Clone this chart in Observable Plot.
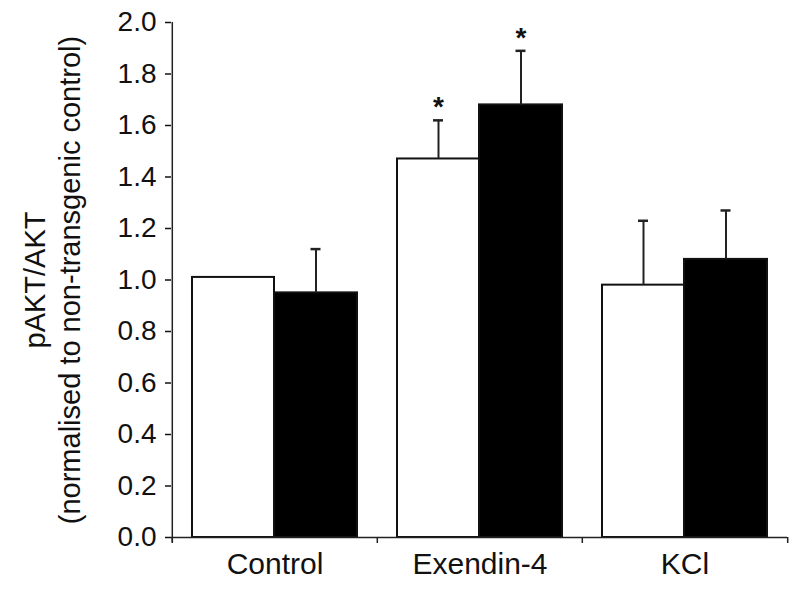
<!DOCTYPE html>
<html><head><meta charset="utf-8">
<script src="https://cdn.jsdelivr.net/npm/d3@7"></script>
<script src="https://cdn.jsdelivr.net/npm/@observablehq/plot@0.6"></script>
<style>body{margin:0;background:#fff} svg{font-family:"Liberation Sans",Arial,sans-serif}</style>
</head><body><div id="chart"></div>
<script>
const categories = ["Control", "Exendin-4", "KCl"];
const groups = ["non-transgenic", "transgenic"];
const nonTransgenic = [1.01, 1.47, 0.98];
const transgenic = [0.95, 1.68, 1.08];
const errNonTransgenic = [0, 0.15, 0.25];
const errTransgenic = [0.17, 0.21, 0.19];
const sigNonTransgenic = [false, true, false];
const sigTransgenic = [false, true, false];
const yTicks = [0, 0.2, 0.4, 0.6, 0.8, 1.0, 1.2, 1.4, 1.6, 1.8, 2.0];
const yLabel = "pAKT/AKT\n(normalised to non-transgenic control)";

const rows = [];
categories.forEach((c, i) => {
  rows.push({category: c, group: groups[0], value: nonTransgenic[i], err: errNonTransgenic[i], sig: sigNonTransgenic[i]});
  rows.push({category: c, group: groups[1], value: transgenic[i], err: errTransgenic[i], sig: sigTransgenic[i]});
});
const nt = rows.filter(d => d.group === groups[0]);
const tg = rows.filter(d => d.group === groups[1]);

// layout offsets inside each category band (styles only)
const S = {
  nt: {insetLeft: 20, insetRight: 103, dx: -41.5},
  tg: {insetLeft: 102, insetRight: 20, dx: 41}
};

function errMarks(data, s) {
  const d = data.filter(r => r.err > 0);
  return [
    Plot.ruleX(d, {x: "category", y1: "value", y2: r => r.value + r.err, dx: s.dx, stroke: "#222", strokeWidth: 2}),
    Plot.tickY(d, {x: "category", y: r => r.value + r.err, dx: s.dx, insetLeft: 97.5, insetRight: 97.5, stroke: "#222", strokeWidth: 2.5}),
    Plot.text(data.filter(r => r.sig), {x: "category", y: r => r.value + r.err, text: () => "*", dx: s.dx, dy: -13, fontSize: 28, fontWeight: "bold", fill: "#111"})
  ];
}

const chart = Plot.plot({
  width: 800,
  height: 590,
  marginLeft: 171,
  marginRight: 13,
  marginTop: 22,
  marginBottom: 53,
  style: {fontFamily: "'Liberation Sans', Arial, sans-serif", fontSize: "28px", color: "#111", background: "white"},
  x: {domain: categories, padding: 0, label: null},
  y: {domain: [0, 2], label: null},
  marks: [
    Plot.axisY({ticks: yTicks, tickFormat: d3.format(".1f"), tickSize: 6, tickPadding: 9, label: null, strokeWidth: 1.5, fontSize: 28}),
    Plot.axisX({tickSize: 0, tickPadding: 15, label: null, fontSize: 30}),
    Plot.ruleX([categories[0]], {x: d => d, y1: -0.02, y2: 2, dx: -102.7, stroke: "#222", strokeWidth: 1.5}),
    Plot.ruleX(categories, {x: d => d, y1: 0, y2: 0, insetBottom: -6, dx: -102.7, stroke: "#222", strokeWidth: 1.5}),
    Plot.ruleX([categories[categories.length - 1]], {x: d => d, y1: 0, y2: 0, insetBottom: -6, dx: 102.7, stroke: "#222", strokeWidth: 1.5}),
    Plot.barY(nt, {x: "category", y: "value", fill: "white", stroke: "#111", strokeWidth: 2, insetLeft: S.nt.insetLeft, insetRight: S.nt.insetRight}),
    Plot.barY(tg, {x: "category", y: "value", fill: "black", stroke: "#111", strokeWidth: 2, insetLeft: S.tg.insetLeft, insetRight: S.tg.insetRight}),
    ...errMarks(nt, S.nt),
    ...errMarks(tg, S.tg),
    Plot.ruleY([0], {stroke: "#222", strokeWidth: 1.5}),
    Plot.text([yLabel], {frameAnchor: "left", textAnchor: "middle", rotate: -90, dx: -120, lineHeight: 1.2, fontSize: 29, fill: "#111"})
  ]
});
document.getElementById("chart").append(chart);
</script>
</body></html>
